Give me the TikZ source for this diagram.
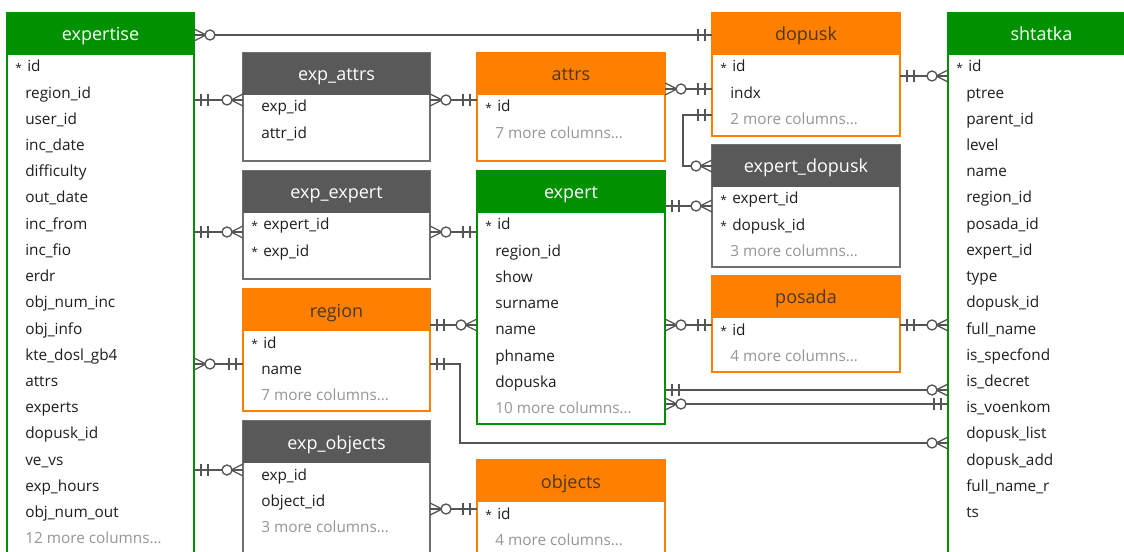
\documentclass[tikz,border=0pt]{standalone}
\usepackage{fontspec}
\setmainfont{Open Sans}
\usetikzlibrary{calc}
\definecolor{ergreen}{RGB}{0,145,0}
\definecolor{erorange}{RGB}{255,128,0}
\definecolor{erdark}{RGB}{89,89,89}
\definecolor{erdarkb}{RGB}{112,112,112}
\definecolor{conncol}{RGB}{85,85,85}
\definecolor{rowcol}{RGB}{30,30,30}
\definecolor{morecol}{RGB}{150,150,150}
\definecolor{ortext}{RGB}{75,55,35}
\tikzset{
  box/.style={rectangle, inner sep=0pt, outer sep=0pt, line width=1.5pt, fill=white, anchor=north west},
  hdr/.style={rectangle, inner sep=0pt, outer sep=0pt, anchor=north west, minimum height=31.5pt},
  ttl/.style={anchor=base, inner sep=0pt, font=\fontsize{13.5}{16}\selectfont},
  row/.style={anchor=base west, inner sep=0pt, text=rowcol, font=\fontsize{11.5}{14}\selectfont},
  more/.style={row, text=morecol},
  conn/.style={draw=conncol, line width=1pt},
}
\newcommand{\pk}{\llap{\raisebox{-0.5pt}{\fontsize{9}{10}\selectfont *}\hspace{2.5pt}}\hspace{1.5pt}}
% name, x, y, w, h, border colour, header colour, title colour, title
\newcommand{\erbox}[9]{%
  \node[box, draw=#6, minimum width=#4*0.75pt, minimum height=#5*0.75pt] (#1) at (#2,#3) {};
  \node[hdr, fill=#7, minimum width=#4*0.75pt] (#1-h) at (#2,#3) {};
  \node[ttl, text=#8] (#1-t) at (#2+#4/2,#3+28) {#9};}
\newcommand{\erows}[4]{\foreach[count=\i from 0] \t in {#4} {\node[row] (#1-r\i) at (#2+18,#3+59+\i*26.2) {\t};}}
\newcommand{\emore}[5]{\node[more] (#1-m) at (#2+18,#3+59+#4*26.2) {#5 more columns…};}
\newcommand{\onemark}[2]{%
  \draw[conn] ($(#1)+(#2*7,-6)$) -- ++(0,12);
  \draw[conn] ($(#1)+(#2*14,-6)$) -- ++(0,12);}
\newcommand{\manymark}[2]{%
  \draw[conn] ($(#1)+(0,-6)$) -- ($(#1)+(#2*12,0)$) -- ($(#1)+(0,6)$);
  \draw[conn, fill=white] ($(#1)+(#2*16,0)$) circle[radius=3.75pt];}
% id, left node, right node, y, left mark, right mark
\newcommand{\hlink}[6]{%
  \coordinate (#1a) at (#2.east |- 0,#4);
  \coordinate (#1b) at (#3.west |- 0,#4);
  \draw[conn] (#1a) -- (#1b);
  \csname #5mark\endcsname{#1a}{1}
  \csname #6mark\endcsname{#1b}{-1}}
\begin{document}
\begin{tikzpicture}[x=0.75pt,y=-0.75pt]
\useasboundingbox (0,0) rectangle (1124,552);
\clip (0,0) rectangle (1124,552);

% tables
\erbox{expertise}{7}{13}{187}{560}{ergreen}{ergreen}{white}{expertise}
\erows{expertise}{7}{13}{\pk id, region\_id, user\_id, inc\_date, difficulty, out\_date, inc\_from, inc\_fio, erdr, obj\_num\_inc, obj\_info, kte\_dosl\_gb4, attrs, experts, dopusk\_id, ve\_vs, exp\_hours, obj\_num\_out}
\emore{expertise}{7}{13}{18}{12}

\erbox{expattrs}{243}{53}{187}{108}{erdarkb}{erdark}{white}{exp\_attrs}
\erows{expattrs}{243}{53}{exp\_id, attr\_id}

\erbox{expexpert}{243}{171}{187}{108}{erdarkb}{erdark}{white}{exp\_expert}
\erows{expexpert}{243}{171}{\pk expert\_id, \pk exp\_id}

\erbox{region}{243}{289}{187}{122}{erorange}{erorange}{ortext}{region}
\erows{region}{243}{289}{\pk id, name}
\emore{region}{243}{289}{2}{7}

\erbox{expobjects}{243}{421}{187}{160}{erdarkb}{erdark}{white}{exp\_objects}
\erows{expobjects}{243}{421}{exp\_id, object\_id}
\emore{expobjects}{243}{421}{2}{3}

\erbox{attrs}{477}{53}{188}{108}{erorange}{erorange}{ortext}{attrs}
\erows{attrs}{477}{53}{\pk id}
\emore{attrs}{477}{53}{1}{7}

\erbox{expert}{477}{171}{188}{253}{ergreen}{ergreen}{white}{expert}
\erows{expert}{477}{171}{\pk id, region\_id, show, surname, name, phname, dopuska}
\emore{expert}{477}{171}{7}{10}

\erbox{objects}{477}{460}{188}{120}{erorange}{erorange}{ortext}{objects}
\erows{objects}{477}{460}{\pk id}
\emore{objects}{477}{460}{1}{4}

\erbox{dopusk}{712}{13}{188}{123}{erorange}{erorange}{ortext}{dopusk}
\erows{dopusk}{712}{13}{\pk id, indx}
\emore{dopusk}{712}{13}{2}{2}

\erbox{expertdopusk}{712}{145}{188}{122}{erdarkb}{erdark}{white}{expert\_dopusk}
\erows{expertdopusk}{712}{145}{\pk expert\_id, \pk dopusk\_id}
\emore{expertdopusk}{712}{145}{2}{3}

\erbox{posada}{712}{276}{188}{96}{erorange}{erorange}{ortext}{posada}
\erows{posada}{712}{276}{\pk id}
\emore{posada}{712}{276}{1}{4}

\erbox{shtatka}{948}{13}{187}{560}{ergreen}{ergreen}{white}{shtatka}
\erows{shtatka}{948}{13}{\pk id, ptree, parent\_id, level, name, region\_id, posada\_id, expert\_id, type, dopusk\_id, full\_name, is\_specfond, is\_decret, is\_voenkom, dopusk\_list, dopusk\_add, full\_name\_r, ts}

% connectors
\hlink{c1}{expertise}{dopusk}{35}{many}{one}
\hlink{c2}{expertise}{expattrs}{100}{one}{many}
\hlink{c3}{expattrs}{attrs}{100}{many}{one}
\hlink{c4}{attrs}{dopusk}{89}{many}{one}
\coordinate (c5a) at (dopusk.west |- 0,115);
\coordinate (c5b) at (expertdopusk.west |- 0,166);
\draw[conn] (c5a) -- ++(-29,0) |- (c5b);
\onemark{c5a}{-1}
\manymark{c5b}{-1}
\hlink{c6}{expert}{expertdopusk}{206}{one}{many}
\hlink{c7}{dopusk}{shtatka}{76}{one}{many}
\hlink{c8}{expertise}{expexpert}{232}{one}{many}
\hlink{c9}{expexpert}{expert}{232}{many}{one}
\hlink{c10}{region}{expert}{325}{one}{many}
\hlink{c11}{expertise}{region}{364}{many}{one}
\coordinate (c12a) at (region.east |- 0,364);
\coordinate (c12b) at (shtatka.west |- 0,443);
\draw[conn] (c12a) -- ++(30,0) |- (c12b);
\onemark{c12a}{1}
\manymark{c12b}{-1}
\hlink{c13}{expert}{posada}{325}{many}{one}
\hlink{c14}{posada}{shtatka}{325}{one}{many}
\hlink{c15}{expert}{shtatka}{390}{one}{many}
\hlink{c16}{expert}{shtatka}{404}{many}{one}
\hlink{c17}{expertise}{expobjects}{470}{one}{many}
\hlink{c18}{expobjects}{objects}{509}{many}{one}
\end{tikzpicture}
\end{document}
